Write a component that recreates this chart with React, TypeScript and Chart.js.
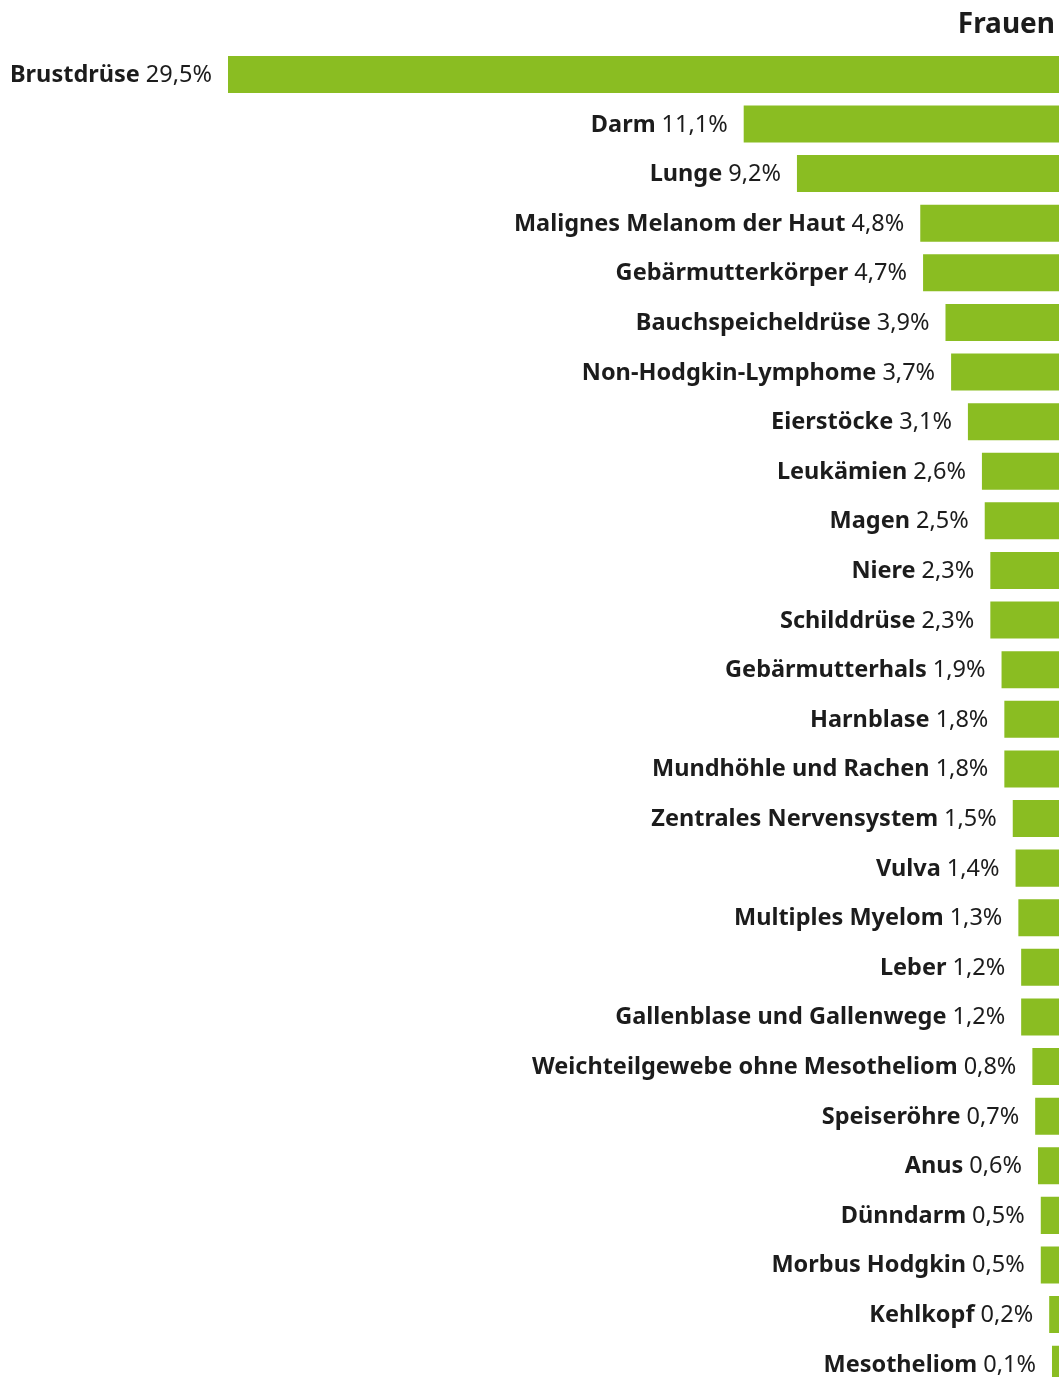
import React, { useEffect, useRef } from "react";
import { Chart, registerables } from "chart.js";

Chart.register(...registerables);

const title = "Frauen";
const categories = [
  "Brustdrüse", "Darm", "Lunge", "Malignes Melanom der Haut", "Gebärmutterkörper",
  "Bauchspeicheldrüse", "Non-Hodgkin-Lymphome", "Eierstöcke", "Leukämien", "Magen",
  "Niere", "Schilddrüse", "Gebärmutterhals", "Harnblase", "Mundhöhle und Rachen",
  "Zentrales Nervensystem", "Vulva", "Multiples Myelom", "Leber",
  "Gallenblase und Gallenwege", "Weichteilgewebe ohne Mesotheliom", "Speiseröhre",
  "Anus", "Dünndarm", "Morbus Hodgkin", "Kehlkopf", "Mesotheliom",
];
const values = [
  29.5, 11.1, 9.2, 4.8, 4.7, 3.9, 3.7, 3.1, 2.6, 2.5, 2.3, 2.3, 1.9, 1.8, 1.8,
  1.5, 1.4, 1.3, 1.2, 1.2, 0.8, 0.7, 0.6, 0.5, 0.5, 0.2, 0.1,
];
const valueLabels = values.map((v) => v.toFixed(1).replace(".", ",") + "%");
const axisMin = -0.15;
const axisMax = 29.5;

const FONT = "'Noto Sans', sans-serif";
const GREEN = "#8abd22";
const TEXT = "#1c1c1c";

const labelPlugin = {
  id: "barLabels",
  afterDatasetsDraw(chart: any) {
    const ctx = chart.ctx;
    const meta = chart.getDatasetMeta(0);
    ctx.save();
    ctx.textBaseline = "alphabetic";
    ctx.fillStyle = TEXT;
    meta.data.forEach((bar: any, i: number) => {
      const right = bar.x - 16;
      const y = bar.y + 7.5;
      ctx.font = `400 23.5px ${FONT}`;
      ctx.textAlign = "right";
      const val = valueLabels[i];
      ctx.fillText(val, right, y);
      const w = ctx.measureText(val).width;
      ctx.font = `700 23.5px ${FONT}`;
      ctx.fillText(categories[i], right - w - 6, y);
    });
    ctx.font = `700 28px ${FONT}`;
    ctx.textAlign = "right";
    ctx.fillText(title, 1055, 33);
    ctx.restore();
  },
};

export default function App() {
  const ref = useRef<HTMLCanvasElement>(null);
  useEffect(() => {
    document.body.style.margin = "0";
    document.body.style.overflow = "hidden";
    document.documentElement.style.overflow = "hidden";
    const chart = new Chart(ref.current!, {
      type: "bar",
      data: {
        labels: categories,
        datasets: [
          {
            data: values,
            base: axisMin,
            backgroundColor: GREEN,
            borderWidth: 0,
            barPercentage: 0.746,
            categoryPercentage: 1,
          } as any,
        ],
      },
      options: {
        indexAxis: "y",
        animation: false,
        responsive: false,
        maintainAspectRatio: false,
        layout: { padding: { left: 228, right: 2, top: 49.6, bottom: 0 } },
        plugins: { legend: { display: false }, tooltip: { enabled: false }, title: { display: false } },
        scales: {
          x: { display: false, reverse: true, min: axisMin, max: axisMax },
          y: { display: false },
        },
      },
      plugins: [labelPlugin],
    });
    return () => chart.destroy();
  }, []);
  return (
    <div style={{ position: "absolute", left: 0, top: 0, width: 1061, height: 1389 }}>
      <canvas ref={ref} width={1061} height={1389} style={{ width: 1061, height: 1389 }} />
    </div>
  );
}
